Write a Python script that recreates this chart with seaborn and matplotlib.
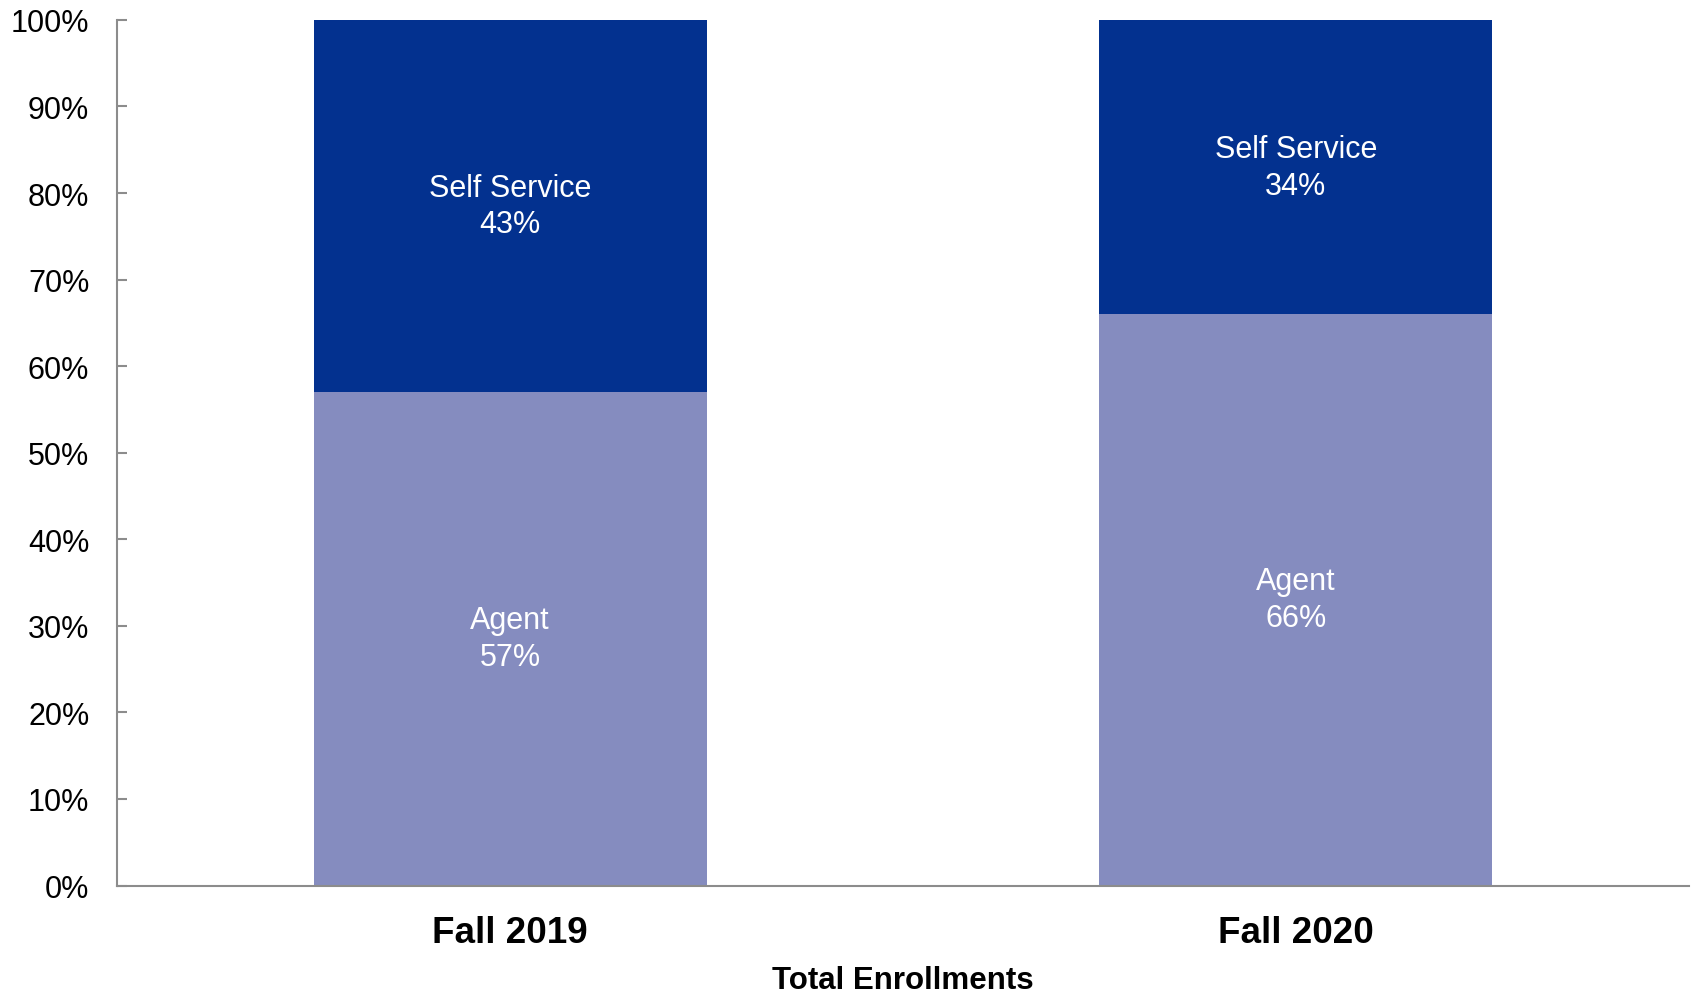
import matplotlib
matplotlib.use("Agg")
import matplotlib.pyplot as plt
import seaborn as sns
import pandas as pd

# Data
categories = ["Fall 2019", "Fall 2020"]
agent = [57, 66]
self_service = [43, 34]
y_ticks = [0, 10, 20, 30, 40, 50, 60, 70, 80, 90, 100]
y_ticklabels = [f"{v}%" for v in y_ticks]
x_title = "Total Enrollments"

DARK = "#03318f"
LIGHT = "#858cbf"
GRID = "#8c8c8c"

sns.set_theme(style="white")
plt.rcParams["font.family"] = ["Liberation Sans", "DejaVu Sans"]

df = pd.DataFrame({
    "period": categories,
    "agent": agent,
    "self": self_service,
})
df["total"] = df["agent"] + df["self"]

fig = plt.figure(figsize=(16.94, 9.95), dpi=100)
ax = fig.add_axes([0.0691, 0.109, 0.9279, 0.870])

sns.barplot(data=df, x="period", y="total", color=DARK, width=0.5,
            saturation=1, ax=ax, edgecolor="none", linewidth=0)
sns.barplot(data=df, x="period", y="agent", color=LIGHT, width=0.5,
            saturation=1, ax=ax, edgecolor="none", linewidth=0)

ax.set_xlim(-0.5, 1.5)
ax.set_ylim(0, 100)
ax.set_yticks(y_ticks)
ax.set_yticklabels(y_ticklabels)
ax.tick_params(axis="y", direction="in", length=7, width=1.5, color=GRID,
               labelsize=22, labelcolor="black", pad=20, left=True)
ax.tick_params(axis="x", length=0, pad=21)
for lbl in ax.get_xticklabels():
    lbl.set_fontsize(26.5)
    lbl.set_fontweight("bold")
    lbl.set_color("black")

ax.set_ylabel("")
ax.set_xlabel(x_title, fontsize=22.5, fontweight="bold", color="black", labelpad=11)

for s in ["top", "right"]:
    ax.spines[s].set_visible(False)
for s in ["left", "bottom"]:
    ax.spines[s].set_color(GRID)
    ax.spines[s].set_linewidth(1.5)

# Segment labels
for i, (a, s) in enumerate(zip(agent, self_service)):
    ax.text(i, a / 2, f"Agent\n{a}%", ha="center", va="center",
            color="white", fontsize=22, linespacing=1.3)
    ax.text(i, a + s / 2, f"Self Service\n{s}%", ha="center", va="center",
            color="white", fontsize=22, linespacing=1.3)

fig.savefig("out.png", dpi=100)
